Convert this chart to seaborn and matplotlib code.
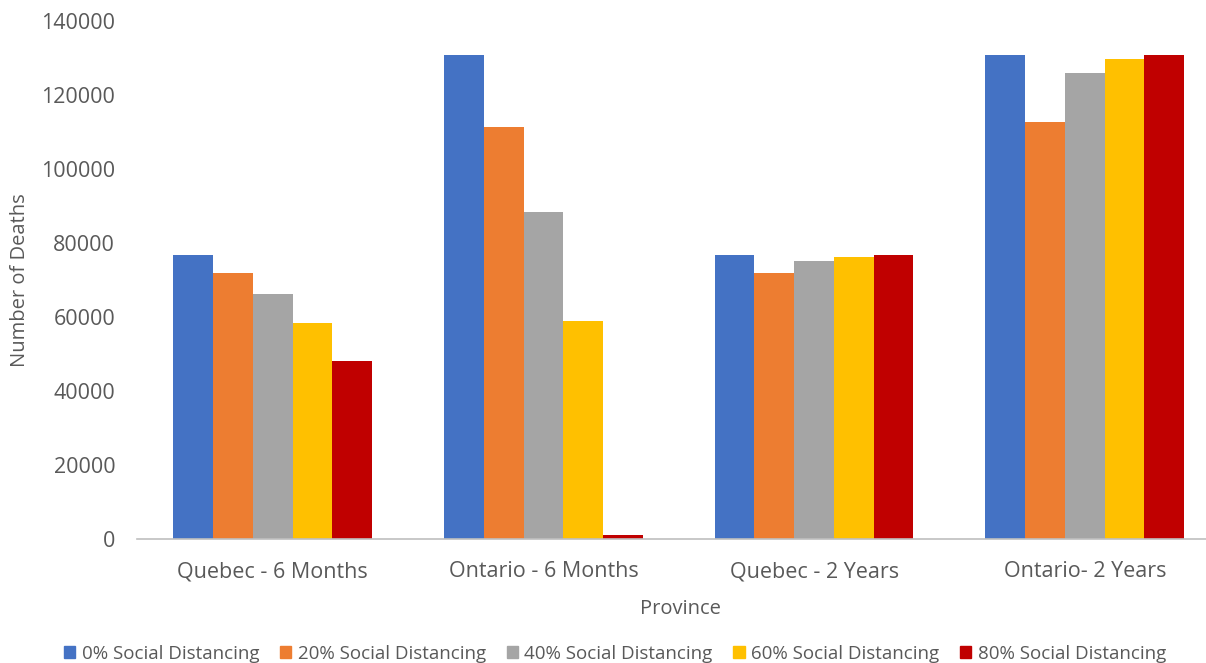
import pandas as pd
import matplotlib.pyplot as plt
import seaborn as sns

# data
provinces = ['Quebec - 6 Months', 'Ontario - 6 Months', 'Quebec - 2 Years', 'Ontario- 2 Years']
scenarios = ['0% Social Distancing', '20% Social Distancing', '40% Social Distancing',
             '60% Social Distancing', '80% Social Distancing']
deaths_0 = [76700, 130700, 76700, 130700]
deaths_20 = [71900, 111400, 71900, 112800]
deaths_40 = [66100, 88400, 75100, 126000]
deaths_60 = [58400, 58900, 76200, 129600]
deaths_80 = [48100, 1000, 76700, 130700]
colors = ['#4472C4', '#ED7D31', '#A5A5A5', '#FFC000', '#C00000']

series = [deaths_0, deaths_20, deaths_40, deaths_60, deaths_80]
rows = []
for name, vals in zip(scenarios, series):
    for prov, v in zip(provinces, vals):
        rows.append({'Province': prov, 'Scenario': name, 'Deaths': v})
df = pd.DataFrame(rows)

sns.set_style('white')
plt.rcParams['font.family'] = ['Open Sans', 'DejaVu Sans']
text_col = '#595959'

fig = plt.figure(figsize=(12.06, 6.63), dpi=100)
ax = fig.add_axes([0.1139, 0.187, 0.8978, 0.7813])

sns.barplot(data=df, x='Province', y='Deaths', hue='Scenario', order=provinces,
            hue_order=scenarios, palette=colors, saturation=1, width=0.734,
            errorbar=None, ax=ax, legend=False, linewidth=0)

ax.set_ylim(0, 140000)
ax.set_yticks(range(0, 140001, 20000))
ax.set_xlim(-0.5, 3.5)
ax.tick_params(axis='y', length=0, labelsize=15.5, colors=text_col, pad=16)
ax.tick_params(axis='x', length=0, labelsize=15.5, colors=text_col, pad=16)
for s in ['top', 'right', 'left']:
    ax.spines[s].set_visible(False)
ax.spines['bottom'].set_color('#BFBFBF')
ax.spines['bottom'].set_linewidth(1.2)

ax.set_xlabel('Province', fontsize=14.5, color=text_col)
ax.set_ylabel('Number of Deaths', fontsize=14.5, color=text_col)
ax_w = 0.8978 * 1206
ax.xaxis.set_label_coords((680 - 137.3) / ax_w, -0.115)
ax.yaxis.set_label_coords(-(137.3 - 30) / ax_w, 0.50)

handles = [plt.Rectangle((0, 0), 1, 1, color=c) for c in colors]
fig.legend(handles, scenarios, loc='center', bbox_to_anchor=(0.51, 0.014), ncol=5,
           frameon=False, fontsize=13.5, handlelength=0.6, handleheight=0.6,
           handletextpad=0.35, columnspacing=1.1, labelcolor=text_col)

fig.savefig('out.png', dpi=100)
